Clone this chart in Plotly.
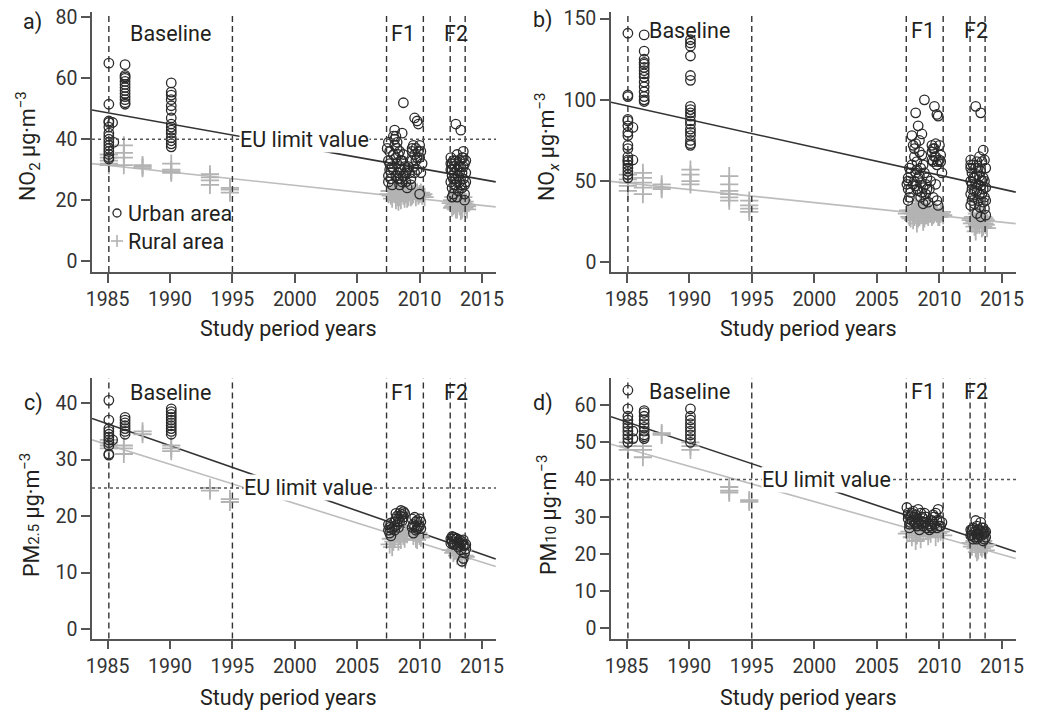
import plotly.graph_objects as go

# ---------------- data ----------------
years_ticks = [1985, 1990, 1995, 2000, 2005, 2010, 2015]
period_bounds = [1985.1, 1995.0, 2007.35, 2010.3, 2012.45, 2013.65]

# Panel a: NO2
no2_urban = [(1985.1, 65), (1985.1, 51.5), (1985.1, 46), (1985.1, 45.5), (1985.1, 44), (1985.1, 42),
             (1985.1, 41), (1985.1, 40), (1985.1, 39), (1985.1, 38), (1985.1, 37), (1985.1, 36),
             (1985.1, 35), (1985.1, 34), (1985.1, 33.5), (1985.4, 45.5), (1985.5, 39),
             (1986.4, 64.5), (1986.4, 61), (1986.4, 60.5), (1986.4, 60), (1986.4, 59), (1986.4, 58),
             (1986.4, 57), (1986.4, 56), (1986.4, 55), (1986.4, 54), (1986.4, 53), (1986.4, 52), (1986.4, 51.5),
             (1990.1, 58.5), (1990.1, 55.5), (1990.1, 54.5), (1990.1, 53), (1990.1, 51), (1990.1, 49.5),
             (1990.1, 47), (1990.1, 45), (1990.1, 44), (1990.1, 43), (1990.1, 42), (1990.1, 40.5),
             (1990.1, 39.5), (1990.1, 38.5), (1990.1, 37.5),
             (2007.5, 39), (2007.6, 36), (2007.5, 33), (2007.6, 30), (2007.5, 28), (2007.5, 26), (2007.7, 27),
             (2007.8, 31), (2007.9, 35), (2008.0, 43), (2008.1, 41), (2008.0, 38), (2008.2, 37), (2008.1, 34),
             (2008.2, 32), (2008.3, 29), (2008.3, 27), (2008.4, 25), (2008.5, 30), (2008.5, 33), (2008.4, 36),
             (2008.6, 42), (2008.7, 52), (2008.7, 28), (2008.8, 31), (2008.9, 26), (2008.9, 29), (2009.0, 24),
             (2009.1, 31), (2009.2, 29), (2009.3, 27), (2009.4, 37), (2009.5, 38), (2009.4, 36), (2009.6, 47),
             (2009.6, 35), (2009.7, 37), (2009.8, 46), (2009.8, 34), (2009.9, 45), (2009.9, 36), (2010.0, 38),
             (2010.1, 36), (2010.2, 32), (2008.0, 40), (2008.2, 39), (2007.9, 30), (2008.6, 26), (2009.3, 25),
             (2010.0, 22),
             (2007.4, 37), (2007.6, 32), (2007.7, 29), (2007.8, 25), (2007.9, 41), (2008.1, 28), (2008.3, 35),
             (2008.4, 31), (2008.5, 27), (2008.6, 33), (2008.7, 35), (2008.8, 28), (2009.0, 30), (2009.4, 33),
             (2009.5, 31), (2009.6, 29), (2009.7, 33), (2009.8, 30), (2010.0, 34), (2010.1, 29),
             (2012.5, 34), (2012.6, 32), (2012.5, 30), (2012.6, 28), (2012.5, 26), (2012.6, 24), (2012.7, 22),
             (2012.7, 33), (2012.8, 31), (2012.8, 29), (2012.9, 27), (2012.9, 45), (2012.9, 25), (2013.0, 35),
             (2013.0, 30), (2013.1, 28), (2013.1, 23), (2013.2, 33), (2013.2, 26), (2013.3, 43), (2013.3, 31),
             (2013.4, 29), (2013.4, 24), (2013.5, 36), (2013.5, 34), (2013.5, 27), (2013.6, 32), (2013.6, 22),
             (2013.7, 29), (2013.6, 20), (2012.6, 21), (2013.0, 21),
             (2012.5, 32), (2012.6, 30), (2012.7, 27), (2012.8, 25), (2012.9, 33), (2013.0, 26), (2013.1, 31),
             (2013.2, 29), (2013.3, 25), (2013.4, 34), (2013.5, 31), (2013.6, 25), (2013.7, 33), (2013.7, 26)]
no2_rural = [(1985.1, 35), (1985.1, 34), (1985.1, 33), (1985.1, 32), (1985.1, 31.5),
             (1986.3, 38), (1986.3, 35.5), (1986.3, 34), (1986.3, 31.5),
             (1987.8, 31.5), (1987.8, 30.5), (1987.8, 31),
             (1990.1, 32), (1990.1, 30), (1990.1, 29.5), (1990.1, 29),
             (1993.2, 28.5), (1993.2, 27.5), (1993.2, 26.5), (1993.2, 25),
             (1994.8, 24), (1994.8, 23.5), (1994.8, 22.5),
             (2007.5, 22), (2007.7, 21.5), (2007.9, 23), (2008.0, 22), (2008.1, 24), (2008.2, 21), (2008.3, 23),
             (2008.4, 22.5), (2008.5, 20), (2008.6, 24), (2008.7, 21.5), (2008.8, 23), (2008.9, 22), (2009.0, 20.5),
             (2009.1, 22), (2009.3, 21), (2009.4, 23), (2009.5, 22), (2009.7, 21), (2009.8, 22.5), (2010.0, 22),
             (2010.2, 21.5), (2010.4, 21), (2008.3, 19.5), (2008.6, 25), (2009.2, 23.5),
             (2007.6, 23), (2007.8, 20.5), (2008.0, 24.5), (2008.1, 20), (2008.2, 23.5), (2008.4, 21),
             (2008.5, 23), (2008.7, 24), (2008.8, 20.5), (2009.0, 23), (2009.1, 21), (2009.4, 21.5),
             (2009.6, 23), (2009.9, 21.5), (2010.1, 22.5), (2010.3, 22),
             (2012.5, 19), (2012.6, 20), (2012.7, 18), (2012.8, 21), (2012.9, 17), (2013.0, 19), (2013.1, 22),
             (2013.2, 18), (2013.3, 16.5), (2013.4, 20), (2013.5, 19), (2013.6, 17.5), (2013.7, 18.5),
             (2013.8, 18), (2012.9, 20.5), (2013.2, 19.5),
             (2012.6, 17.5), (2012.7, 21), (2012.8, 18.5), (2013.0, 17), (2013.1, 19), (2013.2, 21),
             (2013.3, 18.5), (2013.4, 17), (2013.5, 21), (2013.6, 19.5), (2013.8, 17)]
no2_trend_urban = [49.6, 26.0]
no2_trend_rural = [32.0, 17.8]

# Panel b: NOx
nox_urban = [(1985.1, 141), (1985.1, 103), (1985.1, 102), (1985.1, 88), (1985.1, 87), (1985.1, 84),
             (1985.1, 80), (1985.1, 78), (1985.1, 72), (1985.1, 70), (1985.1, 65), (1985.1, 63),
             (1985.1, 62), (1985.1, 60), (1985.1, 58), (1985.1, 56), (1985.1, 54), (1985.1, 52),
             (1985.5, 83), (1985.5, 63),
             (1986.4, 140), (1986.4, 130), (1986.4, 125), (1986.4, 123), (1986.4, 122), (1986.4, 120),
             (1986.4, 118), (1986.4, 116), (1986.4, 114), (1986.4, 111), (1986.4, 108), (1986.4, 105),
             (1986.4, 102), (1986.4, 100), (1986.4, 99),
             (1990.1, 137), (1990.1, 135), (1990.1, 133), (1990.1, 127), (1990.1, 115), (1990.1, 112),
             (1990.1, 96), (1990.1, 94), (1990.1, 92), (1990.1, 90), (1990.1, 87), (1990.1, 85),
             (1990.1, 82), (1990.1, 80), (1990.1, 78), (1990.1, 75), (1990.1, 73), (1990.1, 72),
             (2007.5, 52), (2007.4, 48), (2007.5, 45), (2007.6, 40), (2007.5, 38), (2007.7, 55), (2007.8, 60),
             (2007.8, 78), (2007.9, 72), (2008.0, 65), (2008.0, 50), (2008.1, 47), (2008.1, 92), (2008.2, 62),
             (2008.2, 57), (2008.3, 84), (2008.3, 44), (2008.4, 75), (2008.4, 53), (2008.5, 49), (2008.5, 40),
             (2008.6, 79), (2008.6, 66), (2008.7, 46), (2008.7, 36), (2008.8, 100), (2008.8, 55), (2008.9, 48),
             (2008.9, 42), (2009.0, 52), (2009.1, 37), (2009.2, 45), (2009.3, 50), (2009.4, 72), (2009.4, 68),
             (2009.5, 62), (2009.5, 40), (2009.6, 96), (2009.6, 70), (2009.7, 73), (2009.7, 65), (2009.8, 91),
             (2009.8, 60), (2009.9, 90), (2010.0, 72), (2010.0, 63), (2010.1, 66), (2010.2, 55), (2009.8, 38),
             (2009.9, 35), (2008.1, 73), (2008.4, 68),
             (2007.5, 50), (2007.6, 58), (2007.7, 43), (2007.9, 48), (2008.0, 70), (2008.1, 55), (2008.2, 45),
             (2008.3, 52), (2008.5, 58), (2008.6, 43), (2008.7, 60), (2008.9, 38), (2009.0, 45), (2009.4, 63),
             (2009.5, 70), (2009.6, 65), (2009.7, 48), (2009.9, 62), (2010.1, 62),
             (2012.5, 63), (2012.5, 58), (2012.6, 55), (2012.5, 50), (2012.6, 45), (2012.5, 42), (2012.6, 38),
             (2012.5, 35), (2012.7, 60), (2012.7, 40), (2012.8, 52), (2012.8, 36), (2012.9, 96), (2012.9, 48),
             (2013.0, 62), (2013.0, 44), (2013.0, 30), (2013.1, 58), (2013.1, 38), (2013.2, 65), (2013.2, 53),
             (2013.2, 34), (2013.3, 92), (2013.3, 47), (2013.3, 28), (2013.4, 62), (2013.4, 42), (2013.5, 69),
             (2013.5, 52), (2013.5, 37), (2013.6, 63), (2013.6, 50), (2013.6, 33), (2013.7, 46), (2013.7, 29),
             (2012.5, 60), (2012.6, 48), (2012.7, 52), (2012.8, 44), (2012.9, 58), (2013.0, 54), (2013.1, 48),
             (2013.2, 42), (2013.3, 56), (2013.4, 50), (2013.5, 45), (2013.6, 40), (2013.7, 58), (2013.7, 38)]
nox_rural = [(1985.1, 54), (1985.1, 51), (1985.1, 49), (1985.1, 47), (1985.1, 44),
             (1986.3, 55), (1986.3, 52), (1986.3, 49), (1986.3, 46), (1986.3, 42),
             (1987.8, 48), (1987.8, 46), (1987.8, 45),
             (1990.1, 57), (1990.1, 54), (1990.1, 50), (1990.1, 48),
             (1993.2, 53), (1993.2, 48), (1993.2, 44), (1993.2, 42), (1993.2, 40), (1993.2, 38),
             (1994.8, 38), (1994.8, 35), (1994.8, 33), (1994.8, 31),
             (2007.4, 30), (2007.6, 28), (2007.8, 32), (2007.9, 26), (2008.0, 31), (2008.1, 34), (2008.2, 29),
             (2008.3, 27), (2008.4, 33), (2008.5, 36), (2008.6, 30), (2008.7, 25), (2008.8, 32), (2008.9, 29),
             (2009.0, 31), (2009.1, 28), (2009.3, 30), (2009.5, 29), (2009.7, 31), (2009.9, 28), (2010.1, 30),
             (2010.3, 29), (2008.5, 38), (2008.2, 24),
             (2007.5, 32), (2007.7, 27), (2007.9, 30), (2008.0, 28), (2008.2, 33), (2008.3, 31), (2008.4, 28),
             (2008.6, 33), (2008.8, 27), (2009.0, 29), (2009.2, 31), (2009.4, 28), (2009.6, 30), (2009.8, 30),
             (2010.0, 28), (2010.2, 31),
             (2012.5, 26), (2012.6, 24), (2012.7, 28), (2012.8, 22), (2012.9, 25), (2013.0, 30), (2013.0, 38),
             (2013.1, 27), (2013.2, 23), (2013.3, 26), (2013.4, 21), (2013.5, 28), (2013.6, 24), (2013.7, 26),
             (2013.8, 21), (2012.9, 19), (2013.2, 29),
             (2012.6, 27), (2012.8, 25), (2013.0, 23), (2013.1, 24), (2013.3, 28), (2013.4, 25), (2013.5, 22),
             (2013.6, 27), (2013.7, 23)]
nox_trend_urban = [98.5, 43.2]
nox_trend_rural = [49.8, 23.8]

# Panel c: PM2.5
pm25_urban = [(1985.1, 40.5), (1985.1, 37), (1985.1, 35.5), (1985.1, 35), (1985.1, 34.5), (1985.1, 34),
              (1985.1, 33.5), (1985.1, 33), (1985.1, 32.5), (1985.1, 31), (1985.1, 30.8), (1985.4, 33.5),
              (1986.4, 37.5), (1986.4, 37), (1986.4, 36.5), (1986.4, 36), (1986.4, 35.5), (1986.4, 35),
              (1986.4, 34.5),
              (1990.1, 39), (1990.1, 38.5), (1990.1, 38), (1990.1, 37.5), (1990.1, 37), (1990.1, 36.5),
              (1990.1, 36), (1990.1, 35.5), (1990.1, 35), (1990.1, 34.5),
              (2007.5, 18.5), (2007.5, 17.5), (2007.6, 17), (2007.7, 16.5), (2007.8, 17.8), (2008.0, 19),
              (2008.1, 19.5), (2008.2, 20), (2008.3, 18), (2008.4, 20.5), (2008.5, 21), (2008.6, 20.3),
              (2008.7, 20.8), (2008.8, 20.5), (2009.4, 19.5), (2009.5, 18.5), (2009.6, 19.8), (2009.7, 17.5),
              (2009.8, 19.2), (2009.9, 18), (2010.0, 19.5), (2010.1, 17.8), (2009.5, 17), (2008.2, 18.5),
              (2008.0, 17.5),
              (2007.6, 18), (2007.7, 18.8), (2008.0, 18.2), (2008.1, 20.5), (2008.3, 19.5), (2008.4, 19),
              (2008.5, 20), (2008.6, 19.2), (2008.7, 19.8), (2009.4, 18), (2009.6, 18.2), (2009.7, 19),
              (2009.8, 17.8), (2010.0, 18.3), (2010.1, 19),
              (2012.5, 16), (2012.6, 15.5), (2012.7, 16.3), (2012.8, 15), (2012.9, 16), (2013.0, 15.3),
              (2013.1, 14.5), (2013.2, 15.8), (2013.3, 14), (2013.4, 15.5), (2013.5, 14.8), (2013.6, 13.5),
              (2013.7, 15), (2013.5, 12.5), (2013.4, 12),
              (2012.5, 15.2), (2012.6, 16.4), (2012.7, 15), (2012.8, 16.2), (2013.0, 16), (2013.1, 15.5),
              (2013.2, 14.8), (2013.3, 15.2), (2013.5, 15.8), (2013.6, 14.8), (2013.7, 14.2)]
pm25_rural = [(1985.1, 33.5), (1985.1, 33), (1985.1, 32.5), (1985.1, 32),
              (1986.3, 32.5), (1986.3, 32), (1986.3, 31),
              (1987.8, 34.5), (1987.8, 35),
              (1990.1, 32.5), (1990.1, 32), (1990.1, 31.5),
              (1993.2, 25), (1993.2, 24.5),
              (1994.8, 23), (1994.8, 22.5),
              (2007.6, 15), (2007.8, 14.5), (2008.0, 16), (2008.2, 17), (2008.4, 16.5), (2008.6, 17.5),
              (2008.8, 16), (2009.0, 16.8), (2009.5, 16.5), (2009.7, 16), (2009.9, 17), (2010.1, 16.2),
              (2008.5, 15.8), (2007.9, 15.5),
              (2007.7, 16), (2008.1, 16.8), (2008.3, 15.5), (2008.7, 16.5), (2008.9, 17), (2009.6, 17.2),
              (2009.8, 15.8), (2010.0, 16.5),
              (2012.5, 14), (2012.7, 13.5), (2012.9, 14.2), (2013.0, 13), (2013.1, 14.5), (2013.3, 13.2),
              (2013.4, 12.5), (2013.5, 14), (2013.6, 13), (2013.7, 12.8), (2012.8, 13.8)]
pm25_trend_urban = [37.3, 12.4]
pm25_trend_rural = [33.5, 11.1]

# Panel d: PM10
pm10_urban = [(1985.1, 64), (1985.1, 59), (1985.1, 57), (1985.1, 56), (1985.1, 55), (1985.1, 54),
              (1985.1, 53), (1985.1, 52), (1985.1, 51), (1985.1, 50), (1985.5, 53), (1985.5, 51),
              (1986.4, 58.5), (1986.4, 58), (1986.4, 57), (1986.4, 56), (1986.4, 55), (1986.4, 54),
              (1986.4, 53), (1986.4, 52), (1986.4, 51.5), (1986.4, 51),
              (1990.1, 59), (1990.1, 57), (1990.1, 56), (1990.1, 55), (1990.1, 54), (1990.1, 53),
              (1990.1, 52), (1990.1, 51), (1990.1, 50),
              (2007.4, 32.5), (2007.5, 31), (2007.5, 29.5), (2007.6, 28), (2007.6, 27), (2007.7, 30),
              (2007.8, 29), (2007.9, 31.5), (2008.0, 28.5), (2008.1, 30.5), (2008.2, 27.5), (2008.3, 32),
              (2008.4, 29), (2008.5, 28), (2008.6, 30), (2008.7, 27.5), (2008.8, 31), (2008.9, 28.5),
              (2009.0, 27), (2009.1, 28), (2009.3, 27.5), (2009.4, 29), (2009.5, 30.5), (2009.6, 28),
              (2009.7, 31), (2009.8, 27), (2009.9, 32), (2010.0, 29), (2010.1, 27.5), (2010.2, 28.5),
              (2009.2, 26.5), (2008.4, 26.5),
              (2007.5, 30.5), (2007.7, 28.5), (2007.8, 31), (2008.0, 30), (2008.1, 28), (2008.2, 29.5),
              (2008.3, 28.5), (2008.5, 31), (2008.6, 28.5), (2008.7, 29.5), (2008.9, 30), (2009.4, 27),
              (2009.5, 28.5), (2009.6, 30), (2009.8, 29), (2010.0, 27.5),
              (2012.5, 26.5), (2012.6, 25), (2012.7, 27), (2012.7, 24), (2012.8, 26), (2012.9, 29),
              (2013.0, 25.5), (2013.0, 27.5), (2013.1, 24.5), (2013.2, 26.5), (2013.3, 28.5), (2013.4, 25),
              (2013.5, 27), (2013.5, 23.5), (2013.6, 26), (2013.7, 24.5), (2013.6, 25.5),
              (2012.5, 25), (2012.6, 26.5), (2012.8, 24.5), (2012.9, 26), (2013.0, 24), (2013.1, 26.5),
              (2013.2, 25), (2013.3, 26), (2013.4, 27), (2013.5, 25.5), (2013.6, 24), (2013.7, 26)]
pm10_rural = [(1985.1, 50), (1985.1, 49), (1985.1, 48),
              (1986.3, 49), (1986.3, 48), (1986.3, 46),
              (1987.8, 52.5), (1987.8, 52),
              (1990.1, 50), (1990.1, 49), (1990.1, 48),
              (1993.2, 38), (1993.2, 37), (1993.2, 36.5),
              (1994.8, 34.5), (1994.8, 34),
              (2007.4, 25.5), (2007.6, 26), (2007.8, 24.5), (2008.0, 27), (2008.2, 25), (2008.4, 26.5),
              (2008.5, 24), (2008.7, 25.8), (2008.9, 26.2), (2009.1, 24.8), (2009.3, 25.5), (2009.5, 26.8),
              (2009.7, 24.5), (2009.9, 25.6), (2010.1, 26), (2010.3, 25), (2008.1, 23.5), (2009.0, 27.5),
              (2012.5, 23), (2012.6, 22), (2012.8, 23.5), (2012.9, 21.5), (2013.0, 22.5), (2013.1, 21),
              (2013.2, 23), (2013.3, 22), (2013.4, 21.5), (2013.5, 23.5), (2013.6, 22), (2013.7, 21),
              (2013.8, 22.5), (2013.0, 20.5)]
pm10_trend_urban = [56.9, 20.6]
pm10_trend_rural = [49.5, 18.8]

trend_years = [1983.75, 2016.1]

# ---------------- styling / layout ----------------
FONT = "Roboto"
TXT = "#231f20"
URBAN = "#2a2a2a"
RURAL = "#b3b3b3"
W, H = 1037, 712
TS = 21.5   # text size
KS = 19.5   # tick label size

panels = [
    dict(letter="a)", urban=no2_urban, rural=no2_rural, tu=no2_trend_urban, tr=no2_trend_rural,
         yr=[-3.6, 81.8], yt=[0, 20, 40, 60, 80], limit=40, title="NO<sub>2</sub> μg·m<sup>−3</sup>",
         px=(92, 496), py=(12, 272), lab=(32, 22), ytl=(28, 146), xtl=(288, 328),
         base_y=74.8, limit_x=2000.8),
    dict(letter="b)", urban=nox_urban, rural=nox_rural, tu=nox_trend_urban, tr=nox_trend_rural,
         yr=[-6.0, 154.1], yt=[0, 50, 100, 150], limit=None, title="NO<sub><i>x</i></sub> μg·m<sup>−3</sup>",
         px=(611, 1016), py=(12, 272), lab=(543, 20), ytl=(547, 147), xtl=(808, 328),
         base_y=143, limit_x=None),
    dict(letter="c)", urban=pm25_urban, rural=pm25_rural, tu=pm25_trend_urban, tr=pm25_trend_rural,
         yr=[-1.66, 44.4], yt=[0, 10, 20, 30, 40], limit=25,
         title="PM<span style='font-size:15px'>2.5</span> μg·m<sup>−3</sup>",
         px=(92, 496), py=(378.3, 638.5), lab=(33, 403), ytl=(30, 515), xtl=(288, 697),
         base_y=41.9, limit_x=2001.1),
    dict(letter="d)", urban=pm10_urban, rural=pm10_rural, tu=pm10_trend_urban, tr=pm10_trend_rural,
         yr=[-2.69, 67.2], yt=[0, 10, 20, 30, 40, 50, 60], limit=40,
         title="PM<span style='font-size:15px'>10</span> μg·m<sup>−3</sup>",
         px=(611, 1016), py=(378.3, 638.5), lab=(543, 403), ytl=(547, 515), xtl=(808, 697),
         base_y=63.6, limit_x=2001.0),
]

fig = go.Figure()
shapes, annotations = [], []
layout = dict(width=W, height=H, margin=dict(l=0, r=0, t=0, b=0, pad=0, autoexpand=False),
              paper_bgcolor="white", plot_bgcolor="white", showlegend=False,
              font=dict(family=FONT, size=TS, color=TXT))

def px2x(p):
    return p / W

def px2y(p):
    return 1 - p / H

def txt_font():
    return dict(family=FONT, size=TS, color=TXT)

for i, p in enumerate(panels):
    n = "" if i == 0 else str(i + 1)
    xa, ya = "x" + n, "y" + n
    axis_common = dict(showline=True, linecolor="#555", linewidth=1.5, ticks="outside", ticklen=9,
                       tickwidth=1.5, tickcolor="#555", showgrid=False, zeroline=False, automargin=False,
                       tickfont=dict(family=FONT, size=KS, color="#333"))
    layout["xaxis" + n] = dict(axis_common, domain=[px2x(p["px"][0]), px2x(p["px"][1])],
                               range=[1983.75, 2016.12], tickvals=years_ticks, anchor=ya)
    layout["yaxis" + n] = dict(axis_common, domain=[px2y(p["py"][1]), px2y(p["py"][0])],
                               range=p["yr"], tickvals=p["yt"], anchor=xa)

    ux = [v[0] for v in p["urban"]]
    uy = [v[1] for v in p["urban"]]
    rx = [v[0] for v in p["rural"]]
    ry = [v[1] for v in p["rural"]]
    fig.add_trace(go.Scatter(x=trend_years, y=p["tr"], mode="lines", xaxis=xa, yaxis=ya,
                             line=dict(color="#bdbdbd", width=1.6), hoverinfo="skip"))
    fig.add_trace(go.Scatter(x=trend_years, y=p["tu"], mode="lines", xaxis=xa, yaxis=ya,
                             line=dict(color="#333", width=1.6), hoverinfo="skip"))
    fig.add_trace(go.Scatter(x=rx, y=ry, mode="markers", xaxis=xa, yaxis=ya, name="Rural area",
                             marker=dict(symbol="cross-thin", size=13, line=dict(color=RURAL, width=1.8))))
    fig.add_trace(go.Scatter(x=ux, y=uy, mode="markers", xaxis=xa, yaxis=ya, name="Urban area",
                             marker=dict(symbol="circle-open", size=9.5, color=URBAN, line=dict(width=1.3))))

    for b in period_bounds:
        shapes.append(dict(type="line", xref=xa, yref=ya + " domain", x0=b, x1=b, y0=0, y1=1,
                           line=dict(color="#333", width=1.4, dash="6px,4px")))
    if p["limit"] is not None:
        shapes.append(dict(type="line", xref=xa + " domain", yref=ya, x0=0, x1=1,
                           y0=p["limit"], y1=p["limit"], line=dict(color="#555", width=1.5, dash="dot")))
        annotations.append(dict(x=p["limit_x"], y=p["limit"], xref=xa, yref=ya, text="EU limit value",
                                showarrow=False, bgcolor="white", borderpad=0,
                                xanchor="center", yanchor="middle", font=txt_font()))
    f_y = p["base_y"]
    for txt, xv in (("Baseline", 1990.0), ("F1", 2008.65), ("F2", 2012.95)):
        annotations.append(dict(x=xv, y=f_y, xref=xa, yref=ya, text=txt, showarrow=False,
                                xanchor="center", yanchor="middle", font=txt_font()))
    annotations.append(dict(x=px2x(p["lab"][0]), y=px2y(p["lab"][1]), xref="paper", yref="paper",
                            text=p["letter"], showarrow=False, xanchor="center", yanchor="middle",
                            font=txt_font()))
    annotations.append(dict(x=px2x(p["ytl"][0]), y=px2y(p["ytl"][1]), xref="paper", yref="paper",
                            text=p["title"], textangle=-90, showarrow=False,
                            xanchor="center", yanchor="middle", font=txt_font()))
    annotations.append(dict(x=px2x(p["xtl"][0]), y=px2y(p["xtl"][1]), xref="paper", yref="paper",
                            text="Study period years", showarrow=False,
                            xanchor="center", yanchor="middle", font=txt_font()))

# legend (panel a)
shapes.append(dict(type="circle", xref="paper", yref="paper",
                   x0=px2x(113), x1=px2x(121), y0=px2y(217), y1=px2y(209),
                   line=dict(color=URBAN, width=1.3)))
shapes.append(dict(type="line", xref="paper", yref="paper", x0=px2x(111), x1=px2x(123),
                   y0=px2y(241), y1=px2y(241), line=dict(color=RURAL, width=1.6)))
shapes.append(dict(type="line", xref="paper", yref="paper", x0=px2x(117), x1=px2x(117),
                   y0=px2y(235), y1=px2y(247), line=dict(color=RURAL, width=1.6)))
annotations.append(dict(x=px2x(126), y=px2y(213), xref="paper", yref="paper", text="Urban area",
                        xanchor="left", yanchor="middle", showarrow=False, font=txt_font()))
annotations.append(dict(x=px2x(126), y=px2y(241), xref="paper", yref="paper", text="Rural area",
                        xanchor="left", yanchor="middle", showarrow=False, font=txt_font()))

layout["shapes"] = shapes
layout["annotations"] = annotations
fig.update_layout(**layout)
fig.write_html("out.html")
